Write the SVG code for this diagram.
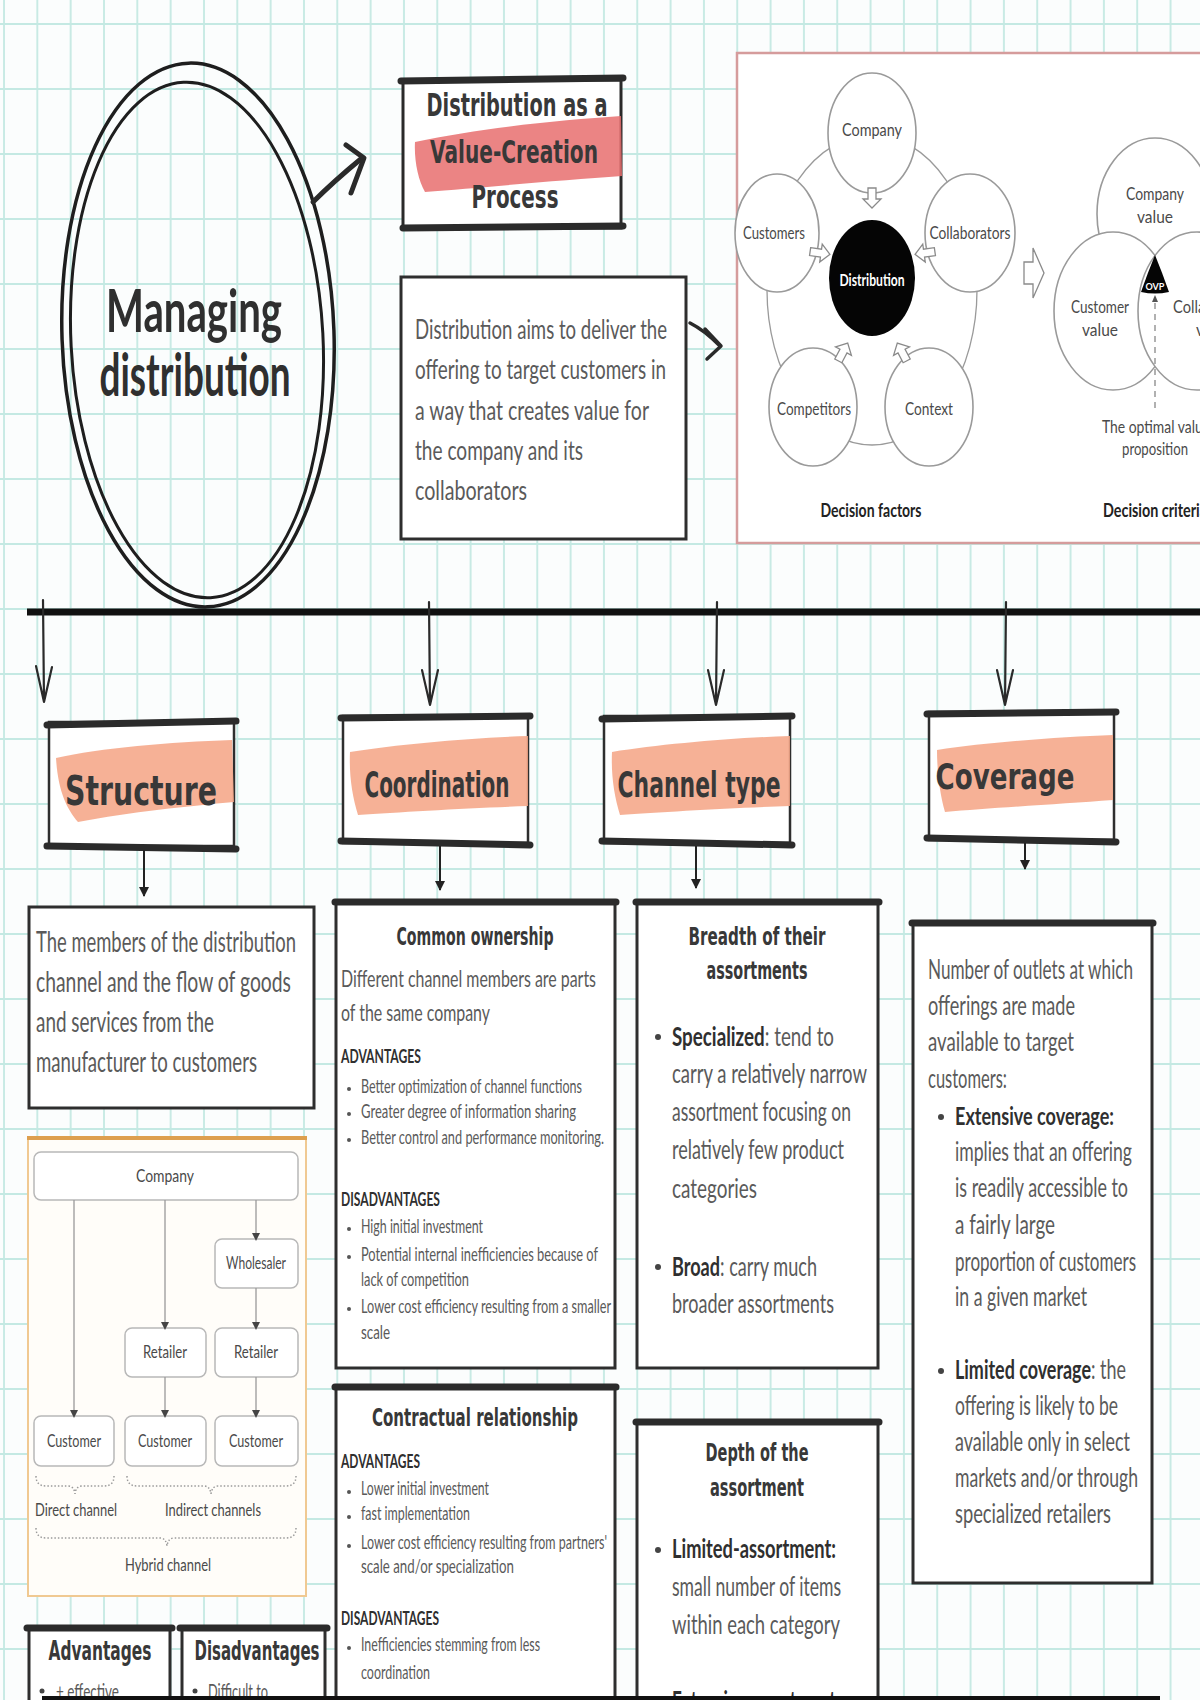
<svg xmlns="http://www.w3.org/2000/svg" width="1200" height="1700" viewBox="0 0 1200 1700">
<defs>
<style>
.t{font-family:'Lato','Noto Sans','Liberation Sans',sans-serif;fill:#5a5a5a}
.tb{font-family:'Lato','Noto Sans','Liberation Sans',sans-serif;fill:#2f2f2f;font-weight:bold}
.h{font-family:'DejaVu Sans','Liberation Sans',sans-serif;fill:#383838;font-weight:bold}
.dg{font-family:'Lato','Noto Sans','Liberation Sans',sans-serif;fill:#4a4a4a}
.box{fill:#ffffff;stroke:#2e2e2e;stroke-width:3}
.bar{stroke:#2b2b2b;stroke-width:7;stroke-linecap:round;fill:none}
.brush{fill:#f5a688;opacity:0.88}
.arr{stroke:#2a2a2a;stroke-width:2.2;fill:none;stroke-linecap:round}
.circ{fill:#ffffff;stroke:#9a9a9a;stroke-width:1.6}
.hol{fill:#ffffff;stroke:#8a8a8a;stroke-width:1.3}
.node{fill:#ffffff;stroke:#b8b8b8;stroke-width:1.5}
.cl{stroke:#9a9a9a;stroke-width:1.3;fill:none}
.brace{stroke:#9a9a9a;stroke-width:1.5;fill:none;stroke-dasharray:1.5 2}
</style>
<pattern id="grid" x="3" y="23" width="33.33" height="65" patternUnits="userSpaceOnUse">
<path d="M1,0 V65 M0,1 H33.33" stroke="#c4e9e3" stroke-width="1.8" fill="none"/>
</pattern>
<path id="holl" d="M-10,-4 H1 V-9 L10,0 L1,9 V4 H-10 Z"/>
<marker id="tri" markerWidth="8" markerHeight="8" refX="4" refY="4" orient="auto" markerUnits="userSpaceOnUse"><path d="M0,0 L8,4 L0,8 Z" fill="#444"/></marker>
<marker id="tri2" markerWidth="10" markerHeight="10" refX="9" refY="5" orient="auto" markerUnits="userSpaceOnUse"><path d="M0,0 L10,5 L0,10 Z" fill="#222"/></marker>
</defs>

<rect x="0" y="0" width="1200" height="1700" fill="#fbfdfd"/>
<rect x="0" y="0" width="1200" height="1700" fill="url(#grid)"/>

<!-- Central node -->
<g id="node-managing">
<ellipse cx="198" cy="335" rx="136" ry="272" fill="none" stroke="#1e1e1e" stroke-width="3.5" transform="rotate(-2 198 335)"/>
<ellipse cx="197" cy="340" rx="126" ry="258" fill="none" stroke="#1e1e1e" stroke-width="3" transform="rotate(-3 197 340)"/>
<text class="tb" x="194" y="332" font-size="60" text-anchor="middle" textLength="176" lengthAdjust="spacingAndGlyphs" fill="#333">Managing</text>
<text class="tb" x="195" y="396" font-size="60" text-anchor="middle" textLength="191" lengthAdjust="spacingAndGlyphs" fill="#333">distribution</text>
</g>

<!-- Title node -->
<g id="node-title">
<rect x="403" y="80" width="218" height="148" fill="#ffffff" stroke="#2a2a2a" stroke-width="3"/>
<path d="M415,142 C480,128 560,120 621,116 L622,176 C560,180 480,188 425,192 C418,180 414,160 415,142 Z" fill="#e86f6f" opacity="0.85"/>
<path d="M401,81 L623,78" class="bar" stroke-width="6"/>
<path d="M403,228 L623,226" class="bar" stroke-width="6"/>
<text class="h" x="517" y="116" font-size="32" text-anchor="middle" textLength="181" lengthAdjust="spacingAndGlyphs">Distribution as a</text>
<text class="h" x="514" y="163" font-size="32" text-anchor="middle" textLength="168" lengthAdjust="spacingAndGlyphs">Value-Creation</text>
<text class="h" x="515" y="208" font-size="32" text-anchor="middle" textLength="87" lengthAdjust="spacingAndGlyphs">Process</text>
</g>

<!-- Definition node -->
<g id="node-definition">
<rect x="401" y="277" width="285" height="262" class="box"/>
<text class="t" x="415" y="339" font-size="26" textLength="252" lengthAdjust="spacingAndGlyphs">Distribution aims to deliver the</text>
<text class="t" x="415" y="379" font-size="26" textLength="251" lengthAdjust="spacingAndGlyphs">offering to target customers in</text>
<text class="t" x="415" y="420" font-size="26" textLength="234" lengthAdjust="spacingAndGlyphs">a way that creates value for</text>
<text class="t" x="415" y="460" font-size="26" textLength="168" lengthAdjust="spacingAndGlyphs">the company and its</text>
<text class="t" x="415" y="500" font-size="26" textLength="112" lengthAdjust="spacingAndGlyphs">collaborators</text>
</g>

<!-- Decision panel -->
<g id="node-decision-panel">
<rect x="737" y="53" width="475" height="490" fill="#ffffff" stroke="#d59c9c" stroke-width="2.5"/>
<ellipse cx="872" cy="290" rx="105" ry="155" class="cl" stroke="#a0a0a0" stroke-width="1.5"/>
<ellipse cx="872" cy="133" rx="44" ry="60" class="circ"/>
<ellipse cx="777" cy="233" rx="42" ry="59" class="circ"/>
<ellipse cx="970" cy="233" rx="45" ry="59" class="circ"/>
<ellipse cx="813" cy="407" rx="44" ry="59" class="circ"/>
<ellipse cx="929" cy="407" rx="44" ry="59" class="circ"/>
<ellipse cx="872" cy="278" rx="43" ry="58" fill="#050505"/>
<use href="#holl" class="hol" transform="translate(872,198) rotate(90)"/>
<use href="#holl" class="hol" transform="translate(820,253) rotate(8)"/>
<use href="#holl" class="hol" transform="translate(925,253) rotate(172)"/>
<use href="#holl" class="hol" transform="translate(843,352) rotate(-62)"/>
<use href="#holl" class="hol" transform="translate(902,352) rotate(-118)"/>
<text class="dg" x="872" y="136" font-size="17" text-anchor="middle" textLength="60" lengthAdjust="spacingAndGlyphs">Company</text>
<text class="dg" x="774" y="239" font-size="17" text-anchor="middle" textLength="62" lengthAdjust="spacingAndGlyphs">Customers</text>
<text class="dg" x="970" y="239" font-size="17" text-anchor="middle" textLength="81" lengthAdjust="spacingAndGlyphs">Collaborators</text>
<text x="872" y="286" font-size="17" text-anchor="middle" textLength="65" lengthAdjust="spacingAndGlyphs" font-family="'Lato','Noto Sans',sans-serif" font-weight="bold" fill="#ffffff">Distribution</text>
<text class="dg" x="814" y="415" font-size="17" text-anchor="middle" textLength="74" lengthAdjust="spacingAndGlyphs">Competitors</text>
<text class="dg" x="929" y="415" font-size="17" text-anchor="middle" textLength="48" lengthAdjust="spacingAndGlyphs">Context</text>
<text x="871" y="517" font-size="18" text-anchor="middle" textLength="101" lengthAdjust="spacingAndGlyphs" font-family="'Lato','Noto Sans',sans-serif" font-weight="bold" fill="#222">Decision factors</text>
<path d="M1024,262 H1033 V248 L1044,273 L1033,298 V284 H1024 Z" class="hol"/>
<ellipse cx="1155" cy="214" rx="58" ry="76" class="circ" fill="none"/>
<ellipse cx="1113" cy="311" rx="59" ry="79" class="circ" fill="none"/>
<ellipse cx="1197" cy="311" rx="59" ry="79" class="circ" fill="none"/>
<path d="M1155,255 Q1162,272 1169,292 Q1155,295 1141,292 Q1148,272 1155,255 Z" fill="#050505"/>
<text x="1155" y="290" font-size="9" text-anchor="middle" font-family="'Lato','Noto Sans',sans-serif" font-weight="bold" fill="#ffffff">OVP</text>
<path d="M1155,303 V408" stroke="#888" stroke-width="1.3" stroke-dasharray="6 5"/>
<path d="M1152,302 L1155,295 L1158,302 Z" fill="#555"/>
<text class="dg" x="1155" y="200" font-size="17" text-anchor="middle" textLength="58" lengthAdjust="spacingAndGlyphs">Company</text>
<text class="dg" x="1155" y="223" font-size="17" text-anchor="middle" textLength="36" lengthAdjust="spacingAndGlyphs">value</text>
<text class="dg" x="1100" y="313" font-size="17" text-anchor="middle" textLength="58" lengthAdjust="spacingAndGlyphs">Customer</text>
<text class="dg" x="1100" y="336" font-size="17" text-anchor="middle" textLength="36" lengthAdjust="spacingAndGlyphs">value</text>
<text class="dg" x="1173" y="313" font-size="17" textLength="80" lengthAdjust="spacingAndGlyphs">Collaborator</text>
<text class="dg" x="1196" y="336" font-size="17" textLength="36" lengthAdjust="spacingAndGlyphs">value</text>
<text class="dg" x="1102" y="433" font-size="17" textLength="108" lengthAdjust="spacingAndGlyphs">The optimal value</text>
<text class="dg" x="1155" y="455" font-size="17" text-anchor="middle" textLength="66" lengthAdjust="spacingAndGlyphs">proposition</text>
<text x="1103" y="517" font-size="18" textLength="104" lengthAdjust="spacingAndGlyphs" font-family="'Lato','Noto Sans',sans-serif" font-weight="bold" fill="#222">Decision criteria</text>
</g>

<!-- Category header nodes -->
<g id="node-structure">
<rect x="49" y="722" width="185" height="124" fill="#fff" stroke="#2e2e2e" stroke-width="2.5"/>
<path d="M56,758 C100,748 170,742 232,740 L234,802 C190,806 130,812 78,822 C66,808 58,790 56,758 Z" class="brush"/>
<path d="M47,725 L236,721" class="bar"/>
<path d="M47,846 L236,849" class="bar"/>
<text class="h" x="141" y="805" font-size="40" text-anchor="middle" textLength="152" lengthAdjust="spacingAndGlyphs">Structure</text>
</g>
<g id="node-coordination">
<rect x="343" y="716" width="185" height="127" fill="#fff" stroke="#2e2e2e" stroke-width="2.5"/>
<path d="M350,752 C400,744 470,738 528,736 L528,806 C470,808 400,812 358,815 C352,795 349,775 350,752 Z" class="brush"/>
<path d="M341,718 L530,716" class="bar"/>
<path d="M341,841 L530,845" class="bar"/>
<text class="h" x="437" y="797" font-size="36" text-anchor="middle" textLength="145" lengthAdjust="spacingAndGlyphs">Coordination</text>
</g>
<g id="node-channel-type">
<rect x="604" y="716" width="186" height="127" fill="#fff" stroke="#2e2e2e" stroke-width="2.5"/>
<path d="M612,752 C662,744 732,738 790,736 L790,806 C732,808 662,812 620,815 C614,795 611,775 612,752 Z" class="brush"/>
<path d="M602,719 L792,716" class="bar"/>
<path d="M602,841 L792,845" class="bar"/>
<text class="h" x="699" y="797" font-size="36" text-anchor="middle" textLength="163" lengthAdjust="spacingAndGlyphs">Channel type</text>
</g>
<g id="node-coverage">
<rect x="929" y="712" width="185" height="128" fill="#fff" stroke="#2e2e2e" stroke-width="2.5"/>
<path d="M937,750 C990,742 1060,737 1113,735 L1113,800 C1060,804 990,808 945,812 C940,795 937,772 937,750 Z" class="brush"/>
<path d="M927,714 L1116,712" class="bar"/>
<path d="M927,838 L1116,842" class="bar"/>
<text class="h" x="1005" y="789" font-size="36" text-anchor="middle" textLength="139" lengthAdjust="spacingAndGlyphs">Coverage</text>
</g>

<!-- Structure detail -->
<g id="node-structure-def">
<rect x="29" y="907" width="285" height="201" class="box" stroke-width="3.5"/>
<text class="t" x="36" y="952" font-size="29" textLength="260" lengthAdjust="spacingAndGlyphs">The members of the distribution</text>
<text class="t" x="36" y="992" font-size="29" textLength="255" lengthAdjust="spacingAndGlyphs">channel and the flow of goods</text>
<text class="t" x="36" y="1032" font-size="29" textLength="178" lengthAdjust="spacingAndGlyphs">and services from the</text>
<text class="t" x="36" y="1072" font-size="29" textLength="221" lengthAdjust="spacingAndGlyphs">manufacturer to customers</text>
</g>

<g id="node-structure-chart">
<rect x="28" y="1137" width="278" height="459" fill="#fffdf9" stroke="#f0c992" stroke-width="2"/>
<path d="M27,1138 H307" stroke="#dd9f4e" stroke-width="4"/>
<rect x="34" y="1152" width="264" height="48" rx="7" class="node"/>
<rect x="215" y="1239" width="83" height="49" rx="7" class="node"/>
<rect x="125" y="1328" width="81" height="49" rx="7" class="node"/>
<rect x="215" y="1328" width="83" height="49" rx="7" class="node"/>
<rect x="34" y="1416" width="80" height="50" rx="7" class="node"/>
<rect x="125" y="1416" width="81" height="50" rx="7" class="node"/>
<rect x="215" y="1416" width="83" height="50" rx="7" class="node"/>
<text class="dg" x="165" y="1182" font-size="17" text-anchor="middle" textLength="58" lengthAdjust="spacingAndGlyphs">Company</text>
<text class="dg" x="256" y="1269" font-size="17" text-anchor="middle" textLength="60" lengthAdjust="spacingAndGlyphs">Wholesaler</text>
<text class="dg" x="165" y="1358" font-size="17" text-anchor="middle" textLength="44" lengthAdjust="spacingAndGlyphs">Retailer</text>
<text class="dg" x="256" y="1358" font-size="17" text-anchor="middle" textLength="44" lengthAdjust="spacingAndGlyphs">Retailer</text>
<text class="dg" x="74" y="1447" font-size="17" text-anchor="middle" textLength="54" lengthAdjust="spacingAndGlyphs">Customer</text>
<text class="dg" x="165" y="1447" font-size="17" text-anchor="middle" textLength="54" lengthAdjust="spacingAndGlyphs">Customer</text>
<text class="dg" x="256" y="1447" font-size="17" text-anchor="middle" textLength="54" lengthAdjust="spacingAndGlyphs">Customer</text>
<path d="M36,1476 Q36,1486 46,1486 L68,1486 Q74,1486 75,1494 Q76,1486 82,1486 L104,1486 Q114,1486 114,1476" class="brace"/>
<path d="M127,1476 Q127,1486 137,1486 L204,1486 Q210,1486 211,1494 Q212,1486 218,1486 L286,1486 Q296,1486 296,1476" class="brace"/>
<path d="M36,1528 Q36,1538 46,1538 L160,1538 Q166,1538 167,1546 Q168,1538 174,1538 L286,1538 Q296,1538 296,1528" class="brace"/>
<text class="dg" x="76" y="1516" font-size="17" text-anchor="middle" textLength="82" lengthAdjust="spacingAndGlyphs">Direct channel</text>
<text class="dg" x="213" y="1516" font-size="17" text-anchor="middle" textLength="96" lengthAdjust="spacingAndGlyphs">Indirect channels</text>
<text class="dg" x="168" y="1571" font-size="17" text-anchor="middle" textLength="86" lengthAdjust="spacingAndGlyphs">Hybrid channel</text>
</g>

<g id="node-advantages">
<rect x="29" y="1628" width="141" height="90" class="box"/>
<path d="M27,1628 H172" class="bar" stroke-width="6"/>
<text class="h" x="100" y="1660" font-size="26" text-anchor="middle" textLength="103" lengthAdjust="spacingAndGlyphs">Advantages</text>
<circle cx="42" cy="1691" r="2.5" fill="#444"/>
<text class="t" x="56" y="1699" font-size="21" textLength="63" lengthAdjust="spacingAndGlyphs">+ effective</text>
</g>
<g id="node-disadvantages">
<rect x="182" y="1628" width="143" height="90" class="box"/>
<path d="M180,1628 H327" class="bar" stroke-width="6"/>
<text class="h" x="257" y="1660" font-size="26" text-anchor="middle" textLength="125" lengthAdjust="spacingAndGlyphs">Disadvantages</text>
<circle cx="195" cy="1691" r="2.5" fill="#444"/>
<text class="t" x="208" y="1699" font-size="21" textLength="60" lengthAdjust="spacingAndGlyphs">Difficult to</text>
</g>

<!-- Coordination details -->
<g id="node-common-ownership">
<rect x="336" y="901" width="279" height="467" class="box"/>
<path d="M335,902 H616" class="bar" stroke-width="5"/>
<text class="h" x="475" y="945" font-size="24" text-anchor="middle" textLength="157" lengthAdjust="spacingAndGlyphs">Common ownership</text>
<text class="t" x="341" y="987" font-size="23" textLength="255" lengthAdjust="spacingAndGlyphs">Different channel members are parts</text>
<text class="t" x="341" y="1021" font-size="23" textLength="149" lengthAdjust="spacingAndGlyphs">of the same company</text>
<text class="tb" x="341" y="1063" font-size="18" textLength="80" lengthAdjust="spacingAndGlyphs" fill="#3a3a3a">ADVANTAGES</text>
<g fill="#555"><circle cx="349" cy="1089" r="2"/><circle cx="349" cy="1114" r="2"/><circle cx="349" cy="1140" r="2"/><circle cx="349" cy="1229" r="2"/><circle cx="349" cy="1257" r="2"/><circle cx="349" cy="1309" r="2"/></g>
<text class="t" x="361" y="1093" font-size="19" textLength="221" lengthAdjust="spacingAndGlyphs">Better optimization of channel functions</text>
<text class="t" x="361" y="1118" font-size="19" textLength="215" lengthAdjust="spacingAndGlyphs">Greater degree of information sharing</text>
<text class="t" x="361" y="1144" font-size="19" textLength="243" lengthAdjust="spacingAndGlyphs">Better control and performance monitoring.</text>
<text class="tb" x="341" y="1206" font-size="18" textLength="99" lengthAdjust="spacingAndGlyphs" fill="#3a3a3a">DISADVANTAGES</text>
<text class="t" x="361" y="1233" font-size="19" textLength="122" lengthAdjust="spacingAndGlyphs">High initial investment</text>
<text class="t" x="361" y="1261" font-size="19" textLength="237" lengthAdjust="spacingAndGlyphs">Potential internal inefficiencies because of</text>
<text class="t" x="361" y="1286" font-size="19" textLength="108" lengthAdjust="spacingAndGlyphs">lack of competition</text>
<text class="t" x="361" y="1313" font-size="19" textLength="250" lengthAdjust="spacingAndGlyphs">Lower cost efficiency resulting from a smaller</text>
<text class="t" x="361" y="1339" font-size="19" textLength="29" lengthAdjust="spacingAndGlyphs">scale</text>
</g>

<g id="node-contractual">
<rect x="336" y="1386" width="279" height="330" class="box"/>
<path d="M335,1387 H616" class="bar" stroke-width="5"/>
<text class="h" x="475" y="1426" font-size="24" text-anchor="middle" textLength="206" lengthAdjust="spacingAndGlyphs">Contractual relationship</text>
<text class="tb" x="341" y="1468" font-size="18" textLength="79" lengthAdjust="spacingAndGlyphs" fill="#3a3a3a">ADVANTAGES</text>
<g fill="#555"><circle cx="349" cy="1492" r="2"/><circle cx="349" cy="1517" r="2"/><circle cx="349" cy="1546" r="2"/><circle cx="349" cy="1648" r="2"/></g>
<text class="t" x="361" y="1495" font-size="19" textLength="128" lengthAdjust="spacingAndGlyphs">Lower initial investment</text>
<text class="t" x="361" y="1520" font-size="19" textLength="109" lengthAdjust="spacingAndGlyphs">fast implementation</text>
<text class="t" x="361" y="1549" font-size="19" textLength="246" lengthAdjust="spacingAndGlyphs">Lower cost efficiency resulting from partners'</text>
<text class="t" x="361" y="1573" font-size="19" textLength="153" lengthAdjust="spacingAndGlyphs">scale and/or specialization</text>
<text class="tb" x="341" y="1625" font-size="18" textLength="98" lengthAdjust="spacingAndGlyphs" fill="#3a3a3a">DISADVANTAGES</text>
<text class="t" x="361" y="1651" font-size="19" textLength="179" lengthAdjust="spacingAndGlyphs">Inefficiencies stemming from less</text>
<text class="t" x="361" y="1679" font-size="19" textLength="69" lengthAdjust="spacingAndGlyphs">coordination</text>
</g>

<!-- Channel type details -->
<g id="node-breadth">
<rect x="637" y="901" width="241" height="467" class="box"/>
<path d="M636,902 H879" class="bar" stroke-width="5"/>
<text class="h" x="757" y="945" font-size="24" text-anchor="middle" textLength="137" lengthAdjust="spacingAndGlyphs">Breadth of their</text>
<text class="h" x="757" y="979" font-size="24" text-anchor="middle" textLength="101" lengthAdjust="spacingAndGlyphs">assortments</text>
<circle cx="658" cy="1037" r="3" fill="#444"/>
<text x="672" y="1046" font-size="27" textLength="162" lengthAdjust="spacingAndGlyphs" class="t"><tspan class="tb">Specialized</tspan>: tend to</text>
<text class="t" x="672" y="1083" font-size="27" textLength="195" lengthAdjust="spacingAndGlyphs">carry a relatively narrow</text>
<text class="t" x="672" y="1121" font-size="27" textLength="179" lengthAdjust="spacingAndGlyphs">assortment focusing on</text>
<text class="t" x="672" y="1159" font-size="27" textLength="172" lengthAdjust="spacingAndGlyphs">relatively few product</text>
<text class="t" x="672" y="1198" font-size="27" textLength="85" lengthAdjust="spacingAndGlyphs">categories</text>
<circle cx="658" cy="1267" r="3" fill="#444"/>
<text x="672" y="1276" font-size="27" textLength="145" lengthAdjust="spacingAndGlyphs" class="t"><tspan class="tb">Broad</tspan>: carry much</text>
<text class="t" x="672" y="1313" font-size="27" textLength="162" lengthAdjust="spacingAndGlyphs">broader assortments</text>
</g>

<g id="node-depth">
<rect x="637" y="1421" width="241" height="300" class="box"/>
<path d="M636,1422 H879" class="bar" stroke-width="5"/>
<text class="h" x="757" y="1461" font-size="24" text-anchor="middle" textLength="103" lengthAdjust="spacingAndGlyphs">Depth of the</text>
<text class="h" x="757" y="1496" font-size="24" text-anchor="middle" textLength="94" lengthAdjust="spacingAndGlyphs">assortment</text>
<circle cx="658" cy="1550" r="3" fill="#444"/>
<text class="tb" x="672" y="1558" font-size="27" textLength="164" lengthAdjust="spacingAndGlyphs">Limited-assortment:</text>
<text class="t" x="672" y="1596" font-size="27" textLength="169" lengthAdjust="spacingAndGlyphs">small number of items</text>
<text class="t" x="672" y="1634" font-size="27" textLength="168" lengthAdjust="spacingAndGlyphs">within each category</text>
<text class="tb" x="672" y="1710" font-size="27" textLength="168" lengthAdjust="spacingAndGlyphs">Extensive  assortment:</text>
</g>

<!-- Coverage details -->
<g id="node-coverage-def">
<rect x="913" y="922" width="239" height="661" class="box"/>
<path d="M912,923 H1153" class="bar" stroke-width="5"/>
<text class="t" x="928" y="979" font-size="26" textLength="205" lengthAdjust="spacingAndGlyphs">Number of outlets at which</text>
<text class="t" x="928" y="1015" font-size="26" textLength="147" lengthAdjust="spacingAndGlyphs">offerings are made</text>
<text class="t" x="928" y="1051" font-size="26" textLength="146" lengthAdjust="spacingAndGlyphs">available to target</text>
<text class="t" x="928" y="1088" font-size="26" textLength="79" lengthAdjust="spacingAndGlyphs">customers:</text>
<circle cx="941" cy="1117" r="3" fill="#444"/>
<text class="tb" x="955" y="1125" font-size="25" textLength="159" lengthAdjust="spacingAndGlyphs">Extensive coverage:</text>
<text class="t" x="955" y="1161" font-size="26" textLength="177" lengthAdjust="spacingAndGlyphs">implies that an offering</text>
<text class="t" x="955" y="1197" font-size="26" textLength="173" lengthAdjust="spacingAndGlyphs">is readily accessible to</text>
<text class="t" x="955" y="1234" font-size="26" textLength="100" lengthAdjust="spacingAndGlyphs">a fairly large</text>
<text class="t" x="955" y="1271" font-size="26" textLength="181" lengthAdjust="spacingAndGlyphs">proportion of customers</text>
<text class="t" x="955" y="1306" font-size="26" textLength="132" lengthAdjust="spacingAndGlyphs">in a given market</text>
<circle cx="941" cy="1371" r="3" fill="#444"/>
<text x="955" y="1379" font-size="26" textLength="171" lengthAdjust="spacingAndGlyphs" class="t"><tspan class="tb">Limited coverage</tspan>: the</text>
<text class="t" x="955" y="1415" font-size="26" textLength="163" lengthAdjust="spacingAndGlyphs">offering is likely to be</text>
<text class="t" x="955" y="1451" font-size="26" textLength="175" lengthAdjust="spacingAndGlyphs">available only in select</text>
<text class="t" x="955" y="1487" font-size="26" textLength="183" lengthAdjust="spacingAndGlyphs">markets and/or through</text>
<text class="t" x="955" y="1523" font-size="26" textLength="156" lengthAdjust="spacingAndGlyphs">specialized retailers</text>
</g>

<!-- Connectors -->
<g id="connectors">
<path d="M27,612 H1200" stroke="#111" stroke-width="7"/>
<path d="M313,202 C330,185 345,172 362,158" stroke="#2a2a2a" stroke-width="5" fill="none" stroke-linecap="round"/>
<path d="M346,145 L364,158 L351,193" stroke="#2a2a2a" stroke-width="5" fill="none" stroke-linecap="round" stroke-linejoin="round"/>
<path d="M690,323 C700,328 710,336 720,346" stroke="#2a2a2a" stroke-width="3.5" fill="none" stroke-linecap="round"/>
<path d="M705,329 L721,346 L707,359" stroke="#2a2a2a" stroke-width="3.5" fill="none" stroke-linecap="round" stroke-linejoin="round"/>
<path d="M43,600 L44,702 M36,666 L44,702 L52,667" class="arr"/>
<path d="M429,602 L430,705 M422,670 L430,705 L438,670" class="arr"/>
<path d="M717,602 L716,705 M708,670 L716,705 L724,670" class="arr"/>
<path d="M1006,602 L1005,705 M997,670 L1005,705 L1013,670" class="arr"/>
<path d="M144,850 V896" stroke="#222" stroke-width="2" marker-end="url(#tri2)"/>
<path d="M440,846 V890" stroke="#222" stroke-width="2" marker-end="url(#tri2)"/>
<path d="M696,846 V888" stroke="#222" stroke-width="2" marker-end="url(#tri2)"/>
<path d="M1025,843 V869" stroke="#222" stroke-width="2" marker-end="url(#tri2)"/>
<path d="M74,1200 V1414" class="cl" marker-end="url(#tri)"/>
<path d="M165,1200 V1326" class="cl" marker-end="url(#tri)"/>
<path d="M256,1200 V1237" class="cl" marker-end="url(#tri)"/>
<path d="M256,1288 V1326" class="cl" marker-end="url(#tri)"/>
<path d="M165,1377 V1414" class="cl" marker-end="url(#tri)"/>
<path d="M256,1377 V1414" class="cl" marker-end="url(#tri)"/>
</g>

<rect x="42" y="1696" width="1118" height="4" fill="#111"/>
</svg>
